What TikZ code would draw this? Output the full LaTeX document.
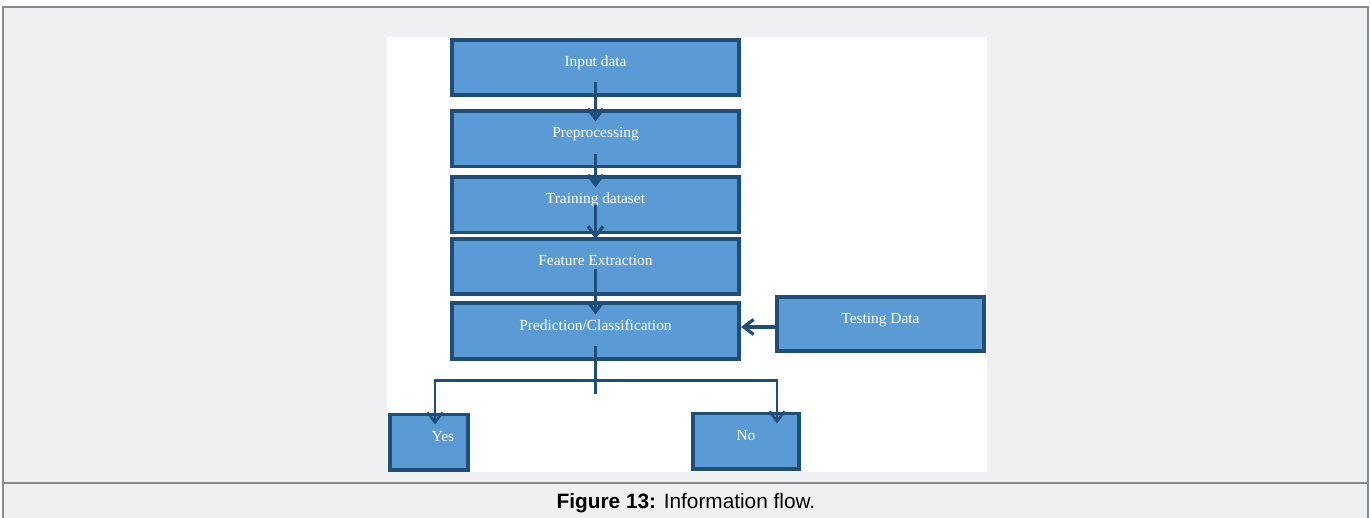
\documentclass[tikz,border=0pt]{standalone}
\usepackage{fontspec}
\setmainfont{Liberation Serif}
\newfontfamily\capfont{Liberation Sans}
\usetikzlibrary{calc,arrows.meta}

\definecolor{boxfill}{HTML}{5B9BD5}
\definecolor{boxline}{HTML}{1F4E79}
\definecolor{pagegray}{HTML}{EFF0F2}
\definecolor{framegray}{HTML}{8A8A8A}

\tikzset{
  stage/.style={draw=boxline, fill=boxfill, line width=1.8pt, text=white,
    font=\fontsize{7.7}{9}\selectfont, text height=6pt, text depth=7pt,
    minimum height=27.7pt},
  flow/.style={draw=boxline, line width=1.6pt,
    -{Straight Barb[length=5pt,width=7.5pt]}},
  link/.style={draw=boxline, line width=1.3pt}
}

\begin{document}
\begin{tikzpicture}[x=0.5pt,y=-0.5pt]
    \useasboundingbox (0,0) rectangle (1371,518);
    \fill[pagegray] (3,7) rectangle (1368,518);
    \draw[framegray, line width=1pt] (3,518) -- (3,7) -- (1368,7) -- (1368,518);
    \draw[framegray, line width=1pt] (3,483) -- (1368,483);
    \fill[white] (387,37) rectangle (987,472);

    \node[stage, minimum width=143.7pt] (in) at (595.5,67.5) {Input data};
    \node[stage, minimum width=143.7pt] (pre) at (595.5,139) {Preprocessing};
    \node[stage, minimum width=143.7pt] (train) at (595.5,205) {Training dataset};
    \node[stage, minimum width=143.7pt] (feat) at (595.5,266.5) {Feature Extraction};
    \node[stage, minimum width=143.7pt] (pred) at (595.5,331) {Prediction/Classification};
    \node[stage, minimum width=103.7pt, minimum height=27.2pt] (test) at (880.5,324) {Testing Data};
    \node[stage, minimum width=39.2pt, inner xsep=1pt] (yes) at (429,442) {\hspace*{14pt}Yes};
    \node[stage, minimum width=53.2pt] (no) at (746,441) {No};

\draw [flow, shorten <=-7.5pt, shorten >=-6pt] (in) -- (pre);
\draw [flow, shorten <=-7pt, shorten >=-6pt] (pre) -- (train);
\draw [flow, shorten <=-14.5pt, shorten >=-1pt] (train) -- (feat);
\draw [flow, shorten <=-13.5pt, shorten >=-6.5pt] (feat) -- (pred);
\draw [flow] ($(test.west)+(0,3)$) to ($(test.west -| pred.east)+(0,3)$);

\coordinate (fork) at ($(pred.south)+(0,20)$);
\coordinate (stub) at ($(pred.south)+(0,33)$);
\draw [link] ($(pred.south)+(0,-14)$) -- (stub);
\draw [flow, line width=1.3pt] (fork) -| ($(yes.north)+(6,12)$);
\draw [flow, line width=1.3pt] (fork) -| ($(no.north)+(31,12)$);

    \node[font=\capfont\fontsize{10.4}{12}\selectfont] (cap) at (686,503) {\textbf{Figure 13:} Information flow.};
  \end{tikzpicture}
\end{document}
